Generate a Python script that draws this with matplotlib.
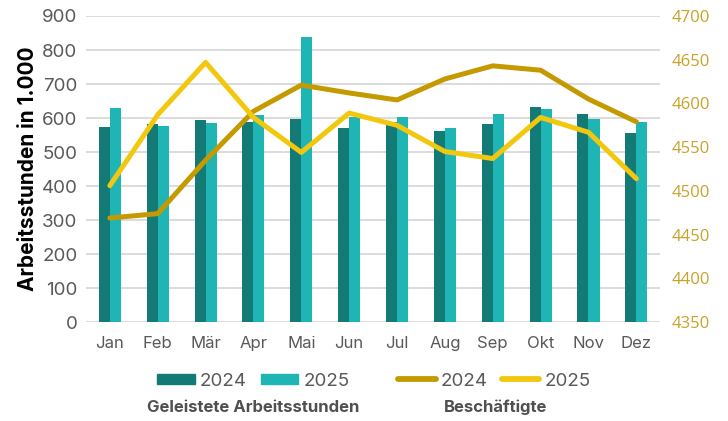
import numpy as np
import matplotlib.pyplot as plt
from matplotlib.patches import Patch
from matplotlib.lines import Line2D

plt.rcParams['font.family'] = ['Inter', 'DejaVu Sans']

months = ['Jan', 'Feb', 'Mär', 'Apr', 'Mai', 'Jun', 'Jul', 'Aug', 'Sep', 'Okt', 'Nov', 'Dez']
stunden_2024 = [574, 582, 594, 588, 597, 570, 589, 562, 581, 632, 613, 555]
stunden_2025 = [628, 576, 584, 609, 839, 604, 602, 571, 611, 627, 596, 587]
besch_2024 = [4469, 4474, 4535, 4591, 4621, 4612, 4604, 4628, 4643, 4638, 4605, 4579]
besch_2025 = [4506, 4587, 4647, 4584, 4544, 4589, 4575, 4545, 4537, 4584, 4567, 4514]

c_dark = '#137A76'
c_light = '#20B5B5'
c_gold = '#C49A00'
c_yellow = '#F2C80F'
c_tick = '#595959'
c_rtick = '#C9A227'

fig = plt.figure(figsize=(7.28, 4.21), dpi=100)
ax = fig.add_axes([0.118, 0.235, 0.789, 0.727])
ax2 = ax.twinx()

x = np.arange(len(months))
w = 0.23
ax.bar(x - w / 2, stunden_2024, w, color=c_dark, zorder=2)
ax.bar(x + w / 2, stunden_2025, w, color=c_light, zorder=2)

ax2.plot(x, besch_2024, color=c_gold, lw=3.6, solid_capstyle='round', zorder=3)
ax2.plot(x, besch_2025, color=c_yellow, lw=3.6, solid_capstyle='round', zorder=3)

ax.set_xlim(-0.5, 11.5)
ax.set_ylim(0, 900)
ax.set_yticks(range(0, 901, 100))
ax2.set_ylim(4350, 4700)
ax2.set_yticks(range(4350, 4701, 50))

ax.grid(axis='y', color='#D9D9D9', lw=1.3, zorder=0)
ax.set_axisbelow(True)
for a in (ax, ax2):
    for s in a.spines.values():
        s.set_visible(False)
ax.tick_params(axis='both', length=0, colors=c_tick)
ax.tick_params(axis='x', pad=10, labelsize=12)
ax.tick_params(axis='y', pad=6, labelsize=13.5)
ax2.tick_params(axis='y', length=0, labelsize=12, colors=c_rtick, pad=8)
for lab in ax2.get_yticklabels():
    lab.set_family(['Open Sans', 'DejaVu Sans'])
ax.set_xticks(x)
ax.set_xticklabels(months)
ax.set_ylabel('Arbeitsstunden in 1.000', fontsize=15, fontweight='bold', color='black', labelpad=3)

h_bars = [Patch(color=c_dark), Patch(color=c_light)]
leg1 = fig.legend(h_bars, ['2024', '2025'], loc='center', bbox_to_anchor=(0.348, 0.095), ncol=2,
                  frameon=False, fontsize=13.5, handlelength=2.0, handleheight=0.5, handletextpad=0.27,
                  columnspacing=0.75, labelcolor=c_tick)
h_lines = [Line2D([], [], color=c_gold, lw=4.2, solid_capstyle='round'),
           Line2D([], [], color=c_yellow, lw=4.2, solid_capstyle='round')]
leg2 = fig.legend(h_lines, ['2024', '2025'], loc='center', bbox_to_anchor=(0.679, 0.095), ncol=2,
                  frameon=False, fontsize=13.5, handlelength=2.0, handletextpad=0.27,
                  columnspacing=0.75, labelcolor=c_tick)
fig.text(0.348, 0.033, 'Geleistete Arbeitsstunden', ha='center', va='center', fontsize=12,
         fontweight='bold', color='#505050')
fig.text(0.681, 0.033, 'Beschäftigte', ha='center', va='center', fontsize=12,
         fontweight='bold', color='#505050')

fig.savefig('out.png', dpi=100)
